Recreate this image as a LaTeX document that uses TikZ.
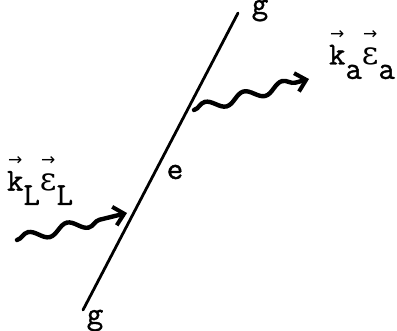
\documentclass[tikz,border=0pt]{standalone}
\usepackage{fontspec}
\setmonofont{Latin Modern Mono}[FakeBold=1.2]
\newfontfamily\symfont{DejaVu Sans}
\newfontfamily\grkfont{DejaVu Serif}
\usepackage{tikz}
\usetikzlibrary{arrows.meta,decorations.pathmorphing}
\newcommand{\tvec}[1]{\leavevmode\hbox{\ooalign{#1\cr\hidewidth\raisebox{0.78em}{\fontsize{17}{17}\selectfont\symfont →}\hidewidth\cr}}}
\newcommand{\lowr}[1]{\raisebox{-0.45em}{#1}}
\newcommand{\eps}{{\grkfont ε}}

\begin{document}
\begin{tikzpicture}[
  x=1pt, y=-1pt,
  font=\fontsize{32}{34}\selectfont\ttfamily,
  line/.style={line width=2.8pt, line cap=round},
  photon/.style={line width=4.4pt, line cap=round,
                 decorate, decoration={snake, amplitude=5pt,
                 segment length=40pt, post length=10pt},
                 -{Straight Barb[length=10pt, width=19pt, line width=4pt]}},
]
\useasboundingbox (0,0) rectangle (397,330);

% electron line
\coordinate (gl) at (83,310);
\coordinate (gu) at (238,13);
\draw[line] (gl) -- (gu);

% photons in and out
\coordinate (lin) at (17,240);
\coordinate (lend) at (127,213);
\coordinate (ain) at (194,110);
\coordinate (aend) at (309,79);
\draw[photon] (lin) -- (lend);
\draw[photon] (ain) -- (aend);

% labels
\node[anchor=base, inner sep=0pt] (gtop) at (260,14) {g};
\node[anchor=base, inner sep=0pt] (gbot) at (95,324) {g};
\node (e) at (175,172) {e};
\node (kl) at (40,188) {\tvec{k}\lowr{L}\tvec{\eps}\lowr{L}};
\node (ka) at (362,62) {\tvec{k}\lowr{a}\tvec{\eps}\lowr{a}};
\end{tikzpicture}
\end{document}
